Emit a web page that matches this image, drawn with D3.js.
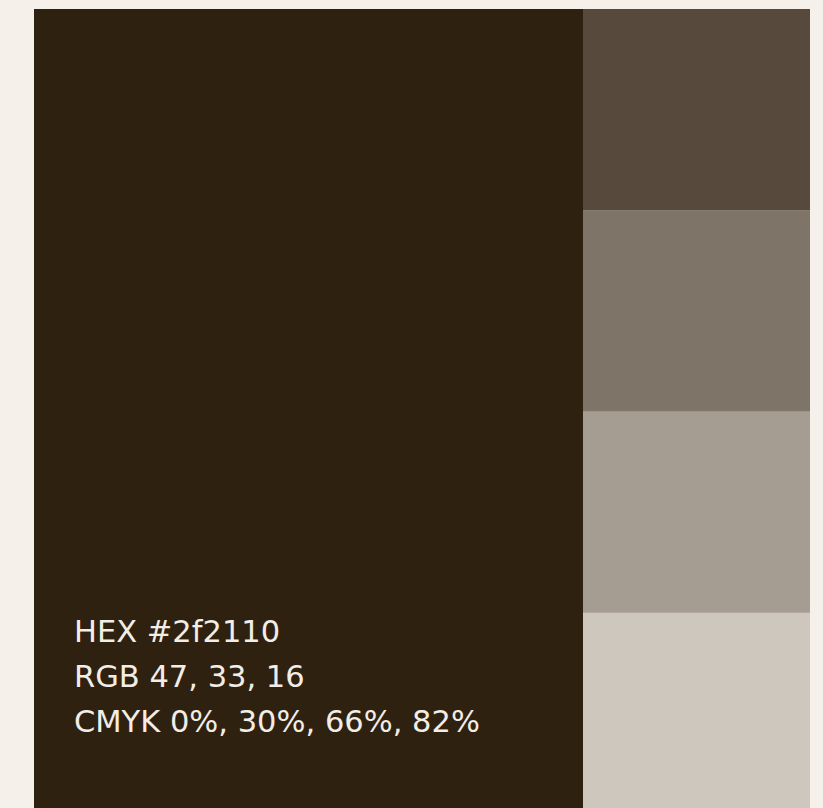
<!DOCTYPE html>
<html>
<head>
<meta charset="utf-8">
<script src="https://cdn.jsdelivr.net/npm/d3@7"></script>
<style>
  body { margin: 0; background: #f5f0ea; }
  svg { display: block; }
</style>
</head>
<body>
<div id="chart"></div>
<script>
// Palette data
var baseColor = "#2f2110";
var tintOpacities = [0.8, 0.6, 0.4, 0.2];
var infoLines = ["HEX #2f2110", "RGB 47, 33, 16", "CMYK 0%, 30%, 66%, 82%"];

// Basic size information
var svgWidth = 823;
var svgHeight = 808;
var bg = "#f5f0ea";

var svg = d3.select("#chart")
    .append("svg")
        .attr("width", svgWidth)
        .attr("height", svgHeight);

svg.append("rect")
    .attr("width", svgWidth)
    .attr("height", svgHeight)
    .attr("fill", bg);

// Columns: main swatch and tint strip
var x = d3.scaleOrdinal()
    .domain(["main", "tints", "end"])
    .range([34, 583, 810]);

// Tint rows
var y = d3.scaleBand()
    .domain(tintOpacities)
    .range([9, 814]);

// Main swatch
svg.append("rect")
    .attr("x", x("main"))
    .attr("y", 9)
    .attr("width", x("tints") - x("main"))
    .attr("height", svgHeight)
    .attr("fill", baseColor);

// Tint swatches
svg.append("g")
    .selectAll("rect")
    .data(tintOpacities)
    .join("rect")
        .attr("x", x("tints"))
        .attr("y", d => y(d))
        .attr("width", x("end") - x("tints"))
        .attr("height", y.bandwidth())
        .attr("fill", baseColor)
        .attr("fill-opacity", d => d);

// Colour info text
var lineY = d3.scaleLinear()
    .domain([0, infoLines.length - 1])
    .range([642, 732]);

svg.append("g")
    .style("font-family", "'DejaVu Sans', sans-serif")
    .style("font-size", "30.5px")
    .attr("fill", "#f2ede6")
    .selectAll("text")
    .data(infoLines)
    .join("text")
        .attr("x", 74)
        .attr("y", (d, i) => lineY(i))
        .text(d => d);
</script>
</body>
</html>
